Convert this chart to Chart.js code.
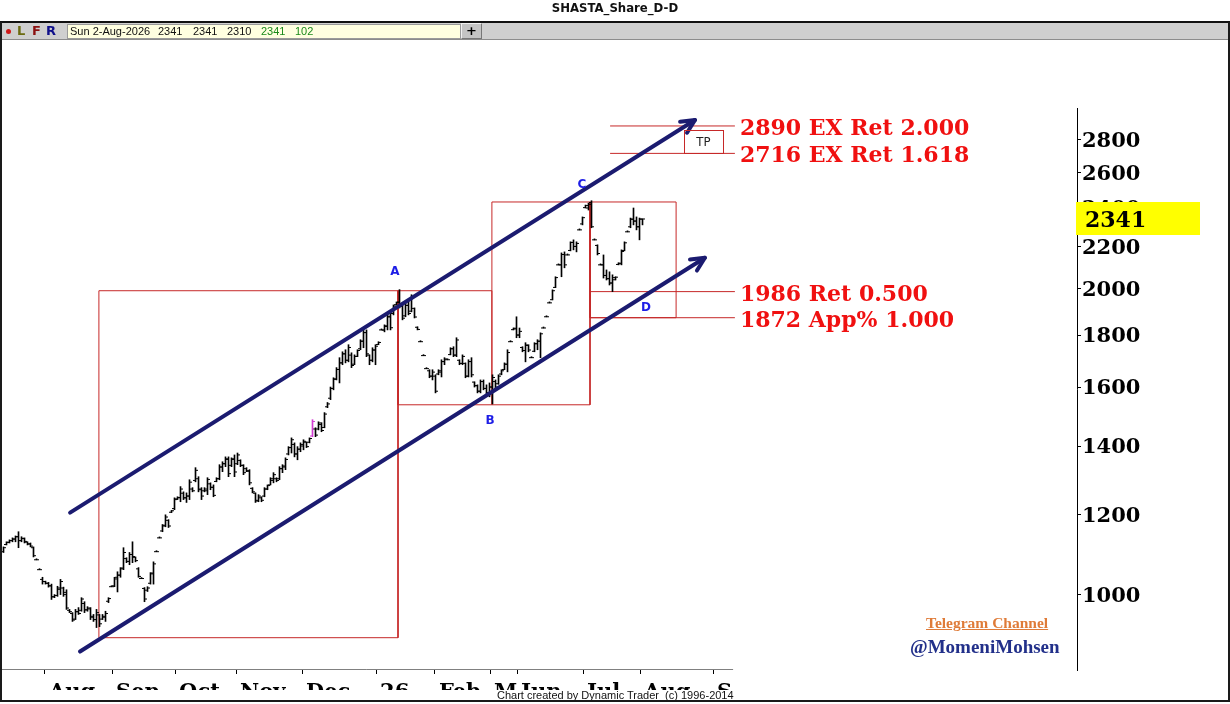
<!DOCTYPE html>
<html lang="en">
<head>
<meta charset="utf-8">
<title>SHASTA_Share_D-D</title>
<script src="https://cdn.jsdelivr.net/npm/chart.js@4.4.1/dist/chart.umd.min.js"></script>
<style>
  html, body { margin: 0; padding: 0; background: #fff; }
  body { position: relative; width: 1230px; height: 704px; overflow: hidden; font-family: "Liberation Sans", Arial, sans-serif; }
  #grafico { position: absolute; left: 0; top: 0; }
  #titulo { position: absolute; left: 0; top: 0; width: 1230px; height: 21px; line-height: 22px; text-align: center; font: bold 13px "DejaVu Sans Condensed", "DejaVu Sans", sans-serif; color: #111; }
  #barra { position: absolute; left: 0; top: 21px; width: 1230px; height: 16px; background: #cfcfcf; border-top: 2px solid #111; border-bottom: 1px solid #8c8c8c; }
  #barra b { position: absolute; top: 0; line-height: 16px; font: bold 13px "DejaVu Sans", sans-serif; }
  #punto { position: absolute; left: 6px; top: 6px; width: 5px; height: 5px; border-radius: 50%; background: #d01818; }
  #campo { position: absolute; left: 67px; top: 1px; width: 392px; height: 13px; background: #ffffe0; border: 1px solid #9a9a9a; font-size: 11px; color: #111; }
  #campo i { position: absolute; top: 0; font-style: normal; line-height: 13px; }
  #campo i.verde { color: #1a8a1a; }
  #mas { position: absolute; left: 461px; top: 0; width: 19px; height: 14px; background: #c4c4c4; border: 1px solid; border-color: #f0f0f0 #777 #777 #f0f0f0; text-align: center; font: bold 13px "DejaVu Sans", sans-serif; line-height: 14px; }
  #pie { position: absolute; left: 497px; top: 689px; font-size: 11px; line-height: 12px; color: #111; white-space: pre; }
  #telegram { position: absolute; left: 926px; top: 615px; font: bold 15.5px "Liberation Serif", serif; line-height: 15.5px; color: #df7b38; text-decoration: underline; }
  #usuario { position: absolute; left: 910px; top: 637px; font: bold 19px "Liberation Serif", serif; line-height: 19px; color: #22308a; }
  #marco { position: absolute; left: 0; top: 22px; width: 1226px; height: 678px; border: 2px solid #1a1a1a; border-top: none; pointer-events: none; }
</style>
</head>
<body>
<canvas id="grafico" width="1230" height="690"></canvas>
<div id="titulo">SHASTA_Share_D-D</div>
<div id="barra">
  <span id="punto"></span>
  <b style="left:17px;color:#6b6b10">L</b>
  <b style="left:32px;color:#8b1010">F</b>
  <b style="left:46px;color:#10108b">R</b>
  <div id="campo">
    <i style="left:2px">Sun 2-Aug-2026</i>
    <i style="left:90px">2341</i>
    <i style="left:125px">2341</i>
    <i style="left:159px">2310</i>
    <i class="verde" style="left:193px">2341</i>
    <i class="verde" style="left:227px">102</i>
  </div>
  <div id="mas">+</div>
</div>
<div id="telegram">Telegram Channel</div>
<div id="usuario">@MomeniMohsen</div>
<div id="pie">Chart created by Dynamic Trader  (c) 1996-2014</div>
<div id="marco"></div>

<script>
// DATOS (una barra diaria por posicion)
const maximos = [
  1114, 1127, 1132, 1137, 1142, 1153, 1140, 1137, 1127, 1124,
  1114, 1082, 1058, 1040, 1031, 1028, 1024, 1000, 1019, 1035,
  1017, 1011, 967, 960, 967, 971, 993, 984, 973, 971,
  956, 967, 956, 956, 963, 993, 1018, 1040, 1053, 1063,
  1112, 1087, 1100, 1127, 1089, 1063, 1037, 1016, 1018, 1051,
  1077, 1102, 1137, 1172, 1198, 1185, 1210, 1245, 1248, 1277,
  1262, 1259, 1297, 1274, 1333, 1306, 1274, 1274, 1303, 1288,
  1282, 1303, 1342, 1351, 1366, 1366, 1363, 1372, 1378, 1357,
  1342, 1333, 1327, 1274, 1259, 1254, 1248, 1274, 1282, 1303,
  1318, 1303, 1336, 1342, 1363, 1398, 1426, 1410, 1398, 1410,
  1420, 1413, 1426, 1486, 1459, 1479, 1476, 1510, 1545, 1600,
  1634, 1672, 1710, 1733, 1741, 1761, 1729, 1721, 1741, 1781,
  1821, 1821, 1721, 1749, 1761, 1773, 1821, 1842, 1884, 1893,
  1927, 1940, 1995, 1927, 1936, 1949, 1972, 1914, 1834, 1773,
  1718, 1668, 1664, 1664, 1645, 1664, 1702, 1710, 1702, 1749,
  1753, 1789, 1702, 1721, 1690, 1702, 1710, 1619, 1608, 1626,
  1626, 1608, 1615, 1645, 1626, 1645, 1664, 1690, 1741, 1773,
  1829, 1876, 1829, 1753, 1769, 1761, 1710, 1769, 1781, 1809,
  1829, 1876, 1936, 1994, 2054, 2110, 2168, 2173, 2158, 2223,
  2233, 2223, 2284, 2352, 2416, 2427, 2440, 2233, 2208, 2110,
  2158, 2086, 2077, 2063, 2054, 2120, 2183, 2223, 2274, 2346,
  2400, 2352, 2346, 2341
];
const minimos = [
  1100, 1119, 1124, 1127, 1127, 1112, 1127, 1124, 1119, 1114,
  1089, 1082, 1058, 1024, 1024, 1017, 989, 993, 996, 1000,
  996, 967, 960, 941, 945, 956, 963, 960, 963, 945,
  941, 928, 930, 945, 941, 982, 1018, 1018, 1006, 1040,
  1058, 1075, 1070, 1075, 1077, 1040, 1037, 984, 1007, 1024,
  1024, 1102, 1137, 1153, 1166, 1164, 1204, 1212, 1240, 1234,
  1240, 1232, 1240, 1262, 1291, 1262, 1240, 1262, 1254, 1268,
  1248, 1291, 1297, 1321, 1336, 1306, 1336, 1306, 1342, 1336,
  1312, 1321, 1282, 1259, 1232, 1234, 1234, 1248, 1268, 1282,
  1288, 1291, 1297, 1318, 1327, 1372, 1378, 1366, 1357, 1382,
  1388, 1395, 1410, 1430, 1430, 1452, 1446, 1459, 1527, 1555,
  1590, 1626, 1615, 1683, 1690, 1694, 1672, 1683, 1714, 1741,
  1749, 1714, 1683, 1694, 1683, 1761, 1821, 1813, 1821, 1821,
  1884, 1927, 1914, 1863, 1876, 1884, 1897, 1871, 1821, 1773,
  1718, 1668, 1634, 1626, 1579, 1645, 1637, 1683, 1702, 1721,
  1714, 1714, 1683, 1683, 1634, 1637, 1637, 1600, 1579, 1579,
  1590, 1572, 1565, 1540, 1590, 1610, 1645, 1664, 1656, 1773,
  1821, 1789, 1789, 1733, 1694, 1733, 1710, 1733, 1741, 1710,
  1829, 1876, 1936, 1949, 2004, 2110, 2054, 2096, 2158, 2178,
  2183, 2173, 2284, 2310, 2400, 2389, 2295, 2233, 2158, 2110,
  2048, 2039, 2016, 1986, 2039, 2110, 2110, 2178, 2274, 2295,
  2310, 2284, 2233, 2310
];
const aperturas = [
  1102, 1120, 1126, 1130, 1134, 1140, 1130, 1135, 1126, 1122,
  1112, 1082, 1058, 1035, 1030, 1026, 1020, 995, 998, 1012,
  1015, 1005, 965, 958, 946, 962, 965, 980, 966, 968,
  952, 945, 955, 946, 950, 985, 1018, 1020, 1040, 1045,
  1062, 1085, 1078, 1095, 1088, 1060, 1037, 1014, 1010, 1026,
  1050, 1102, 1137, 1155, 1170, 1183, 1205, 1215, 1242, 1245,
  1258, 1245, 1250, 1270, 1295, 1300, 1268, 1265, 1265, 1285,
  1275, 1292, 1300, 1335, 1345, 1358, 1340, 1360, 1345, 1355,
  1340, 1330, 1322, 1272, 1258, 1238, 1245, 1250, 1270, 1282,
  1295, 1300, 1300, 1330, 1335, 1375, 1395, 1405, 1375, 1390,
  1400, 1412, 1412, 1432, 1455, 1455, 1470, 1460, 1530, 1560,
  1595, 1630, 1665, 1690, 1725, 1700, 1720, 1685, 1715, 1745,
  1775, 1810, 1720, 1700, 1740, 1762, 1821, 1820, 1835, 1875,
  1890, 1928, 1940, 1920, 1880, 1925, 1900, 1912, 1832, 1773,
  1718, 1668, 1660, 1640, 1640, 1648, 1655, 1695, 1702, 1722,
  1745, 1720, 1700, 1688, 1688, 1640, 1695, 1618, 1605, 1585,
  1620, 1595, 1580, 1600, 1620, 1612, 1648, 1665, 1685, 1773,
  1822, 1825, 1800, 1750, 1738, 1758, 1710, 1735, 1765, 1775,
  1829, 1876, 1936, 1950, 2005, 2110, 2110, 2160, 2158, 2180,
  2220, 2200, 2284, 2315, 2402, 2400, 2430, 2233, 2205, 2110,
  2110, 2060, 2045, 2025, 2040, 2112, 2115, 2180, 2274, 2300,
  2340, 2330, 2300, 2341
];
const cierres = [
  1112, 1125, 1130, 1134, 1140, 1130, 1136, 1128, 1121, 1116,
  1092, 1082, 1058, 1030, 1026, 1020, 995, 998, 1015, 1030,
  1000, 970, 962, 944, 962, 958, 990, 966, 970, 950,
  945, 960, 936, 952, 958, 991, 1018, 1036, 1045, 1060,
  1100, 1078, 1095, 1090, 1080, 1042, 1037, 990, 1015, 1048,
  1072, 1102, 1137, 1168, 1192, 1168, 1209, 1240, 1246, 1270,
  1245, 1250, 1290, 1265, 1325, 1270, 1250, 1270, 1298, 1275,
  1252, 1300, 1335, 1345, 1360, 1315, 1358, 1320, 1372, 1340,
  1318, 1324, 1288, 1262, 1236, 1250, 1238, 1270, 1280, 1300,
  1312, 1295, 1330, 1338, 1358, 1395, 1420, 1375, 1390, 1405,
  1415, 1398, 1424, 1480, 1435, 1475, 1450, 1505, 1540, 1595,
  1628, 1665, 1690, 1725, 1700, 1750, 1680, 1715, 1738, 1775,
  1810, 1725, 1700, 1740, 1755, 1770, 1821, 1838, 1878, 1830,
  1922, 1938, 1925, 1870, 1925, 1890, 1960, 1875, 1823, 1773,
  1718, 1668, 1640, 1655, 1585, 1660, 1695, 1705, 1702, 1745,
  1720, 1780, 1688, 1715, 1640, 1695, 1645, 1605, 1585, 1620,
  1595, 1580, 1600, 1635, 1600, 1640, 1660, 1685, 1730, 1773,
  1828, 1800, 1815, 1738, 1760, 1740, 1710, 1765, 1775, 1805,
  1829, 1876, 1936, 1990, 2050, 2110, 2160, 2110, 2158, 2220,
  2200, 2215, 2284, 2348, 2414, 2420, 2300, 2233, 2165, 2110,
  2060, 2045, 2025, 2050, 2052, 2118, 2175, 2218, 2274, 2340,
  2330, 2300, 2340, 2341
];

// EJE X: comienzo de cada mes (en numero de barra) y su etiqueta
const iniciosMes = [13.8, 36.2, 57.2, 77.5, 99.5, 124.2, 143.8, 162.2, 171.2, 193.2, 212.2, 236.5];
const etiquetasMes = ["Aug", "Sep", "Oct", "Nov", "Dec", "26", "Feb", "M", "Jun", "Jul", "Aug", "S"];
const finEjeX = 243.2;

// EJE Y
const ticksPrecio = [1000, 1200, 1400, 1600, 1800, 2000, 2200, 2400, 2600, 2800];
const precioMin = 843;
const precioMax = 3010;

// CANAL (barra, precio)
const canalSuperior = [[22.2, 1204], [230.5, 2929]];
const canalInferior = [[25.5, 879], [233.8, 2144]];

// CAJAS DE ONDAS
const cajaBarras = [[31.8, 131.5], [131.5, 162.8], [162.8, 195.5], [195.5, 224.2]];
const cajaPrecios = [[907, 1990], [1990, 1537], [1537, 2433], [2433, 1872]];

// NIVELES
const niveles = [2890, 2716, 1986, 1872];
const textosNivel = ["2890 EX Ret 2.000", "2716 EX Ret 1.618", "1986 Ret 0.500", "1872 App% 1.000"];
const inicioNivel = [202.2, 202.2, 195.5, 195.5];
const finNivel = 243.8;

// ONDAS
const ondas = ["A", "B", "C", "D"];
const ondasBarra = [130.5, 162.2, 192.8, 214.2];
const ondasPrecio = [2077, 1482, 2528, 1914];

// TP
const tpBarras = [226.8, 239.8];
const tpPrecios = [2864, 2718];

const barraMagenta = 103;

// COLORES
const NEGRO = "#000000";
const MAGENTA = "#d23cd2";
const ROJO = "#c62828";
const ROJO_TEXTO = "#f01010";
const AZUL = "#1b1b70";
const AZUL_LETRA = "#1e1ee6";

function colorBarra(c) {
  return c.dataIndex === barraMagenta ? MAGENTA : NEGRO;
}

function linea(datos, color, ancho, orden) {
  return {
    type: "line",
    data: datos,
    borderColor: color,
    borderWidth: ancho,
    pointRadius: 0,
    fill: false,
    order: orden
  };
}

// DATASETS
const datasets = [];

datasets.push({
  type: "bar",
  data: maximos.map((h, k) => ({ x: k, y: [minimos[k], h] })),
  backgroundColor: colorBarra,
  barThickness: 1,
  minBarLength: 1,
  borderWidth: 0,
  order: 2
});

[[aperturas, -0.4], [cierres, 0.4]].forEach(([serie, lado]) => {
  datasets.push({
    type: "line",
    data: serie.map((v, k) => ({ x: k + lado, y: v })),
    showLine: false,
    pointStyle: "line",
    pointRadius: 1.3,
    pointBorderWidth: 1,
    pointBorderColor: colorBarra,
    pointBackgroundColor: colorBarra,
    order: 2
  });
});

cajaBarras.forEach(([b0, b1], i) => {
  const [p0, p1] = cajaPrecios[i];
  datasets.push(linea([
    { x: b0, y: p0 }, { x: b0, y: p1 }, { x: b1, y: p1 }, { x: b1, y: p0 }, { x: b0, y: p0 }
  ], ROJO, 1, 3));
});

niveles.forEach((v, i) => {
  datasets.push(linea([{ x: inicioNivel[i], y: v }, { x: finNivel, y: v }], ROJO, 1, 3));
});

datasets.push(linea([{ x: -1.2, y: precioMin }, { x: finEjeX, y: precioMin }], NEGRO, 1, 3));

const idxCanal = [];
[canalSuperior, canalInferior].forEach(canal => {
  idxCanal.push(datasets.length);
  const ds = linea(canal.map(([b, p]) => ({ x: b, y: p })), AZUL, 4, 1);
  ds.borderCapStyle = "round";
  datasets.push(ds);
});

// PUNTAS DE FLECHA
const flechas = {
  id: "flechas",
  afterDatasetsDraw(chart) {
    const c = chart.ctx;
    c.save();
    c.strokeStyle = AZUL;
    c.lineWidth = 4;
    c.lineCap = "round";
    c.lineJoin = "round";
    idxCanal.forEach(i => {
      const pts = chart.getDatasetMeta(i).data;
      const a = pts[pts.length - 2], b = pts[pts.length - 1];
      const ang = Math.atan2(b.y - a.y, b.x - a.x);
      const largo = 15;
      c.beginPath();
      c.moveTo(b.x - largo * Math.cos(ang - 0.45), b.y - largo * Math.sin(ang - 0.45));
      c.lineTo(b.x, b.y);
      c.lineTo(b.x - largo * Math.cos(ang + 0.45), b.y - largo * Math.sin(ang + 0.45));
      c.stroke();
    });
    c.restore();
  }
};

// TEXTOS Y PRECIO ACTUAL
const anotaciones = {
  id: "anotaciones",
  afterDraw(chart) {
    const c = chart.ctx;
    const x = chart.scales.x, y = chart.scales.y;
    c.save();

    c.font = 'bold 22px "DejaVu Serif"';
    c.fillStyle = ROJO_TEXTO;
    c.textAlign = "left";
    c.textBaseline = "alphabetic";
    niveles.forEach((v, i) => {
      c.fillText(textosNivel[i], x.getPixelForValue(finNivel) + 5, y.getPixelForValue(v) + 9);
    });

    c.font = 'bold 12px "DejaVu Sans"';
    c.fillStyle = AZUL_LETRA;
    c.textAlign = "center";
    c.textBaseline = "middle";
    ondas.forEach((t, i) => {
      c.fillText(t, x.getPixelForValue(ondasBarra[i]), y.getPixelForValue(ondasPrecio[i]));
    });

    const tx0 = x.getPixelForValue(tpBarras[0]), tx1 = x.getPixelForValue(tpBarras[1]);
    const ty0 = y.getPixelForValue(tpPrecios[0]), ty1 = y.getPixelForValue(tpPrecios[1]);
    c.strokeStyle = ROJO;
    c.lineWidth = 1;
    c.strokeRect(Math.round(tx0) + 0.5, Math.round(ty0) + 0.5, Math.round(tx1 - tx0), Math.round(ty1 - ty0));
    c.font = '13px "DejaVu Sans Condensed"';
    c.fillStyle = "#222";
    c.fillText("TP", (tx0 + tx1) / 2, (ty0 + ty1) / 2 + 1);

    const ultimo = cierres[cierres.length - 1];
    const py = y.getPixelForValue(ultimo);
    c.fillStyle = "#ffff00";
    c.fillRect(y.left - 1, Math.round(py - 16.5), 124, 33);
    c.fillStyle = NEGRO;
    c.font = 'bold 22px "DejaVu Serif"';
    c.textAlign = "left";
    c.textBaseline = "middle";
    c.fillText(String(ultimo), y.left + 8, py + 2);

    c.restore();
  }
};

// GRAFICO
const ctx = document.getElementById("grafico");

new Chart(ctx, {
  type: "bar",
  data: { datasets },
  options: {
    responsive: false,
    animation: false,
    events: [],
    layout: { autoPadding: false, padding: { top: 108, left: 0, right: 0, bottom: 0 } },
    plugins: {
      legend: { display: false },
      tooltip: { enabled: false }
    },
    scales: {
      x: {
        type: "linear",
        min: -1.1667,
        max: 357.8333,
        offset: false,
        border: { display: false },
        grid: { offset: false, drawOnChartArea: false, drawTicks: true, tickLength: 4, color: NEGRO },
        ticks: {
          autoSkip: false,
          maxRotation: 0,
          minRotation: 0,
          align: "start",
          labelOffset: 4,
          padding: 6,
          color: NEGRO,
          font: { family: "DejaVu Serif", weight: "bold", size: 21 },
          callback: (v, i) => etiquetasMes[i] ?? ""
        },
        afterBuildTicks: s => { s.ticks = iniciosMes.map(v => ({ value: v })); },
        afterFit: s => { s.height = 20; s.paddingLeft = 0; s.paddingRight = 0; }
      },
      y: {
        type: "logarithmic",
        position: "right",
        min: precioMin,
        max: precioMax,
        border: { display: true, color: NEGRO, width: 1 },
        grid: { drawOnChartArea: false, drawTicks: true, tickLength: 4, color: NEGRO },
        ticks: {
          autoSkip: false,
          padding: 1,
          labelOffset: 2,
          color: NEGRO,
          font: { family: "DejaVu Serif", weight: "bold", size: 21 },
          callback: v => String(v)
        },
        afterBuildTicks: s => { s.ticks = ticksPrecio.map(v => ({ value: v })); },
        afterFit: s => { s.width = 153; s.paddingTop = 0; s.paddingBottom = 0; }
      }
    }
  },
  plugins: [flechas, anotaciones]
});
</script>
</body>
</html>
